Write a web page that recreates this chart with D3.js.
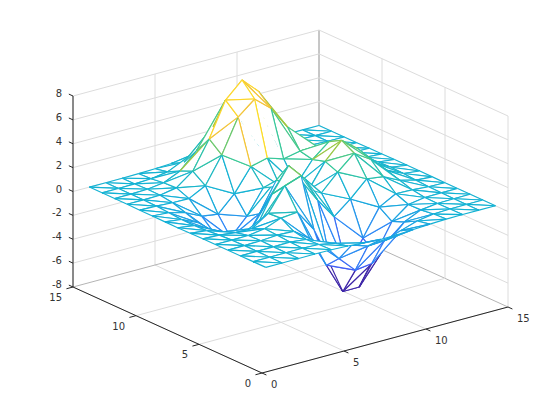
<!DOCTYPE html>
<html>
<head>
<meta charset="utf-8">
<script src="https://d3js.org/d3.v7.min.js"></script>
<style>
body { margin: 0; background: #fff; }
text { font-family: 'DejaVu Sans', sans-serif; font-size: 10px; fill: #333; }
</style>
</head>
<body>
<svg></svg>
<script>
'use strict';

var w = 560;
var h = 420;

// z at every node, one row per y = 1..15, one column per x = 1..15
var zRows = [
    [0.00, 0.00, 0.00, 0.01, -0.00, -0.05, -0.16, -0.24, -0.23, -0.14, -0.06, -0.01, -0.00, -0.00, -0.00],
    [0.00, 0.00, 0.01, 0.02, -0.04, -0.31, -0.83, -1.26, -1.19, -0.72, -0.28, -0.07, -0.01, -0.00, -0.00],
    [0.00, 0.01, 0.02, 0.05, -0.10, -0.88, -2.43, -3.77, -3.59, -2.17, -0.83, -0.20, -0.03, -0.00, 0.00],
    [0.00, 0.01, 0.05, 0.15, 0.10, -0.91, -3.47, -6.04, -6.04, -3.63, -1.28, -0.23, -0.01, 0.01, 0.00],
    [-0.00, -0.01, 0.01, 0.21, 0.73, 0.86, -0.94, -3.99, -4.87, -2.78, -0.56, 0.19, 0.15, 0.04, 0.01],
    [-0.01, -0.07, -0.23, -0.26, 0.65, 2.59, 3.06, 0.66, -1.10, 0.01, 1.34, 1.15, 0.47, 0.11, 0.02],
    [-0.03, -0.17, -0.65, -1.40, -1.09, 1.42, 3.42, 1.94, 0.40, 1.78, 2.99, 2.12, 0.82, 0.19, 0.03],
    [-0.04, -0.23, -0.93, -2.25, -2.78, -0.70, 1.69, 0.98, 0.20, 2.20, 3.59, 2.51, 0.97, 0.23, 0.03],
    [-0.03, -0.20, -0.83, -2.08, -2.82, -1.40, 0.61, 0.41, 0.12, 1.88, 3.00, 2.08, 0.80, 0.19, 0.03],
    [-0.02, -0.12, -0.47, -1.13, -1.34, 0.01, 1.92, 2.26, 1.82, 2.11, 2.14, 1.31, 0.48, 0.11, 0.02],
    [-0.01, -0.04, -0.13, -0.15, 0.56, 2.77, 5.59, 6.72, 5.58, 3.65, 1.97, 0.83, 0.25, 0.05, 0.01],
    [-0.00, -0.00, 0.02, 0.27, 1.30, 3.63, 6.52, 7.83, 6.52, 3.87, 1.69, 0.55, 0.13, 0.02, 0.00],
    [0.00, 0.00, 0.04, 0.22, 0.84, 2.17, 3.81, 4.58, 3.81, 2.22, 0.91, 0.27, 0.06, 0.01, 0.00],
    [0.00, 0.00, 0.01, 0.08, 0.28, 0.72, 1.26, 1.51, 1.26, 0.73, 0.29, 0.08, 0.02, 0.00, 0.00],
    [0.00, 0.00, 0.00, 0.02, 0.06, 0.14, 0.25, 0.30, 0.25, 0.14, 0.06, 0.02, 0.00, 0.00, 0.00]
];
var xTicks = [0, 5, 10, 15];
var yTicks = [0, 5, 10, 15];
var zTicks = [-8, -6, -4, -2, 0, 2, 4, 6, 8];
var parula = ['#3e26a8', '#4752f4', '#2d87f7', '#12b1d6', '#37c897', '#abc739', '#fec338', '#f9fb14'];
// cells (i, j) whose diagonal does not show in the picture
var noDiagonal = ['6,9', '7,9'];
// edges drawn in the colour of their higher end, keys use the sorted node names
var highEdges = ['6,10|6,9', '7,10|7,9', '5,11|6,10', '5,11|6,11', '6,10|6,11', '4,12|5,11', '10,7|9,8', '10,7|9,7'];

// each data axis moves the screen point along its own direction
var ox = d3.scaleLinear().domain([0, 15]).range([0, 246]);
var oy = d3.scaleLinear().domain([0, 15]).range([0, -66]);
var px = d3.scaleLinear().domain([0, 15]).range([0, -189]);
var py = d3.scaleLinear().domain([0, 15]).range([0, -86]);
var pz = d3.scaleLinear().domain([-8, 8]).range([373, 182]);

function sx(x, y) { return 262 + ox(x) + px(y); }
function sy(x, y, z) { return pz(z) + oy(x) + py(y); }
// larger is further from the viewer, used to paint the triangles back to front
function depth(p) { return 0.527 * p[0] / 15 + 0.687 * p[1] / 15 - 0.5 * (p[2] + 8) / 16; }

var color = d3.scaleLinear()
    .domain(parula.map(function (c, i) { return -6.04 + 13.87 * i / 7; }))
    .range(parula);

var svg = d3.select('svg').attr('width', w).attr('height', h);

function seg(g, a, b, col, sw) {
    g.append('line')
        .attr('x1', sx(a[0], a[1])).attr('y1', sy(a[0], a[1], a[2]))
        .attr('x2', sx(b[0], b[1])).attr('y2', sy(b[0], b[1], b[2]))
        .attr('stroke', col).attr('stroke-width', sw);
}

// grid on the floor and on the two back walls
var grid = svg.append('g');
var gridCol = '#dcdcdc';
xTicks.forEach(function (t) {
    seg(grid, [t, 0, -8], [t, 15, -8], t === 15 ? '#b4b4b4' : gridCol, 1);
    seg(grid, [t, 15, -8], [t, 15, 8], t === 15 ? '#b4b4b4' : gridCol, 1);
});
yTicks.forEach(function (t) {
    seg(grid, [0, t, -8], [15, t, -8], t === 15 ? '#b4b4b4' : gridCol, 1);
    seg(grid, [15, t, -8], [15, t, 8], t === 15 ? '#b4b4b4' : gridCol, 1);
});
zTicks.forEach(function (t) {
    if (t === -8) return;
    seg(grid, [0, 15, t], [15, 15, t], gridCol, 1);
    seg(grid, [15, 15, t], [15, 0, t], gridCol, 1);
});

// mesh: white triangles with coloured edges, painted back to front
function node(i, j) { return [i + 1, j + 1, zRows[j][i]]; }
function edge(p, q) {
    var key = [p, q].map(function (n) { return (n[0] - 1) + ',' + (n[1] - 1); }).sort().join('|');
    var lo = Math.min(p[2], q[2]);
    var hi = Math.max(p[2], q[2]);
    var z = lo;
    if (highEdges.indexOf(key) !== -1) z = hi;
    // the valley walls read lighter than their lower end, only the pit itself is dark
    else if (lo < -1 && lo > -6) z = (lo + hi) / 2;
    return [p, q, z];
}
var tris = [];
d3.range(14).forEach(function (j) {
    d3.range(14).forEach(function (i) {
        var a = node(i, j), b = node(i + 1, j), c = node(i + 1, j + 1), d = node(i, j + 1);
        var showDiag = noDiagonal.indexOf(i + ',' + j) === -1;
        tris.push({ pts: [a, b, d], edges: [edge(a, b), edge(a, d)].concat(showDiag ? [edge(b, d)] : []) });
        tris.push({ pts: [b, c, d], edges: [edge(b, c), edge(d, c)].concat(showDiag ? [edge(b, d)] : []) });
    });
});
tris.forEach(function (t) { t.depth = d3.mean(t.pts, depth); });
tris.sort(function (p, q) { return q.depth - p.depth; });

var outline = d3.line()
    .x(function (p) { return sx(p[0], p[1]); })
    .y(function (p) { return sy(p[0], p[1], p[2]); })
    .curve(d3.curveLinearClosed);

var mesh = svg.append('g');
tris.forEach(function (t) {
    mesh.append('path').attr('d', outline(t.pts)).attr('fill', '#fff').attr('stroke', 'none');
    t.edges.forEach(function (e) { seg(mesh, e[0], e[1], color(e[2]), 1.15); });
});

// axes
var axes = svg.append('g');
var ink = '#262626';
seg(axes, [0, 0, -8], [15, 0, -8], ink, 1);
seg(axes, [0, 0, -8], [0, 15, -8], ink, 1);
seg(axes, [0, 15, -8], [0, 15, 8], ink, 1);

xTicks.forEach(function (t) {
    seg(axes, [t, 0, -8], [t, -0.35, -8], ink, 1);
    axes.append('text').attr('x', sx(t, 0) + 9).attr('y', sy(t, 0, -8) + 15).text(t);
});
yTicks.forEach(function (t) {
    seg(axes, [0, t, -8], [-0.4, t, -8], ink, 1);
    axes.append('text').attr('x', sx(0, t) - 11).attr('y', sy(0, t, -8) + 14).attr('text-anchor', 'end').text(t);
});
zTicks.forEach(function (t) {
    seg(axes, [0, 15, t], [0, 15.33, t], ink, 1);
    axes.append('text').attr('x', sx(0, 15) - 11).attr('y', sy(0, 15, t) + 1).attr('text-anchor', 'end').text(t);
});
</script>
</body>
</html>
